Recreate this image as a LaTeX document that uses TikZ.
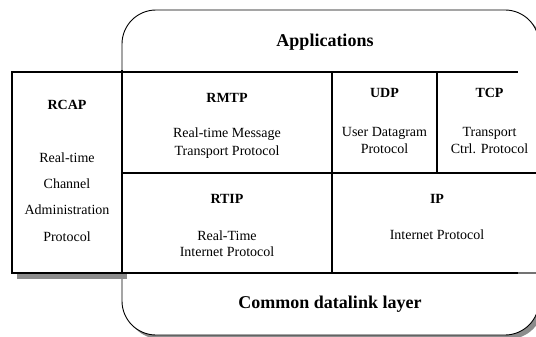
\documentclass[tikz,border=0pt]{standalone}
\usepackage{fontspec}
\setmainfont{Liberation Serif}
\begin{document}
\begin{tikzpicture}[x=1pt,y=-1pt,
  hdr/.style={font=\fontsize{14}{16}\selectfont\bfseries, inner sep=0pt},
  big/.style={font=\fontsize{18}{20}\selectfont\bfseries, inner sep=0pt},
  desc/.style={font=\fontsize{14}{#1}\selectfont, align=center, inner sep=0pt},
  desc/.default=17,
  shade/.style={fill=black!45, draw=none},
  tline/.style={line width=1.3pt},
  frame/.style={line width=0.9pt}]
\useasboundingbox (0,0) rectangle (536,337);
\clip (0,0) rectangle (536,337);
% rounded outer box with shadow
\fill[black!45, rounded corners=34pt] (126,14) rectangle (543,339);
\draw[frame, fill=white, rounded corners=34pt] (122,10) rectangle (539,335);
% RCAP box with shadow
\fill[shade] (17,77) rectangle (127,279);
\draw[tline, fill=white] (12,72) rectangle (122,273);
% table
\coordinate (tl) at (122,72);
\coordinate (tr) at (518,72);
\coordinate (ml) at (122,173);
\coordinate (mr) at (542,173);
\coordinate (bl) at (122,273);
\coordinate (br) at (518,273);
\coordinate (bx) at (542,273);
\coordinate (v1t) at (332,72);
\coordinate (v1b) at (332,273);
\coordinate (v2t) at (437,72);
\coordinate (v2b) at (437,173);
\fill[white] (122,72) rectangle (542,273);
\draw[tline] (tl) -- (tr);
\draw[tline] (ml) -- (mr);
\draw[tline] (bl) -- (br);
\draw[line width=1.3pt, black!55] (br) -- (bx);
\draw[line width=1.8pt] (122,70) -- (bl);
\draw[tline] (v1t) -- (v1b);
\draw[tline] (v2t) -- (v2b);
% texts
\node[big] (app) at (325,42) {Applications};
\node[big] (cdl) at (330,304) {Common datalink layer};
\node[hdr] (rcap) at (67,105) {RCAP};
\node[desc=26.3] (rcapd) at (67,197) {Real-time\\Channel\\Administration\\Protocol};
\node[hdr] (rmtp) at (227,98) {RMTP};
\node[desc=18] (rmtpd) at (227,143) {Real-time Message\\Transport Protocol};
\node[hdr] (udp) at (384.5,93) {UDP};
\node[desc=16.5] (udpd) at (384.5,140.5) {User Datagram\\Protocol};
\node[hdr] (tcp) at (489.5,93) {TCP};
\node[desc=16.5] (tcpd) at (489.5,140.5) {Transport\\Ctrl. Protocol};
\node[hdr] (rtip) at (227,199) {RTIP};
\node[desc=16.5] (rtipd) at (227,243.5) {Real-Time\\Internet Protocol};
\node[hdr] (ip) at (437,199) {IP};
\node[desc] (ipd) at (437,234.5) {Internet Protocol};
\end{tikzpicture}
\end{document}
